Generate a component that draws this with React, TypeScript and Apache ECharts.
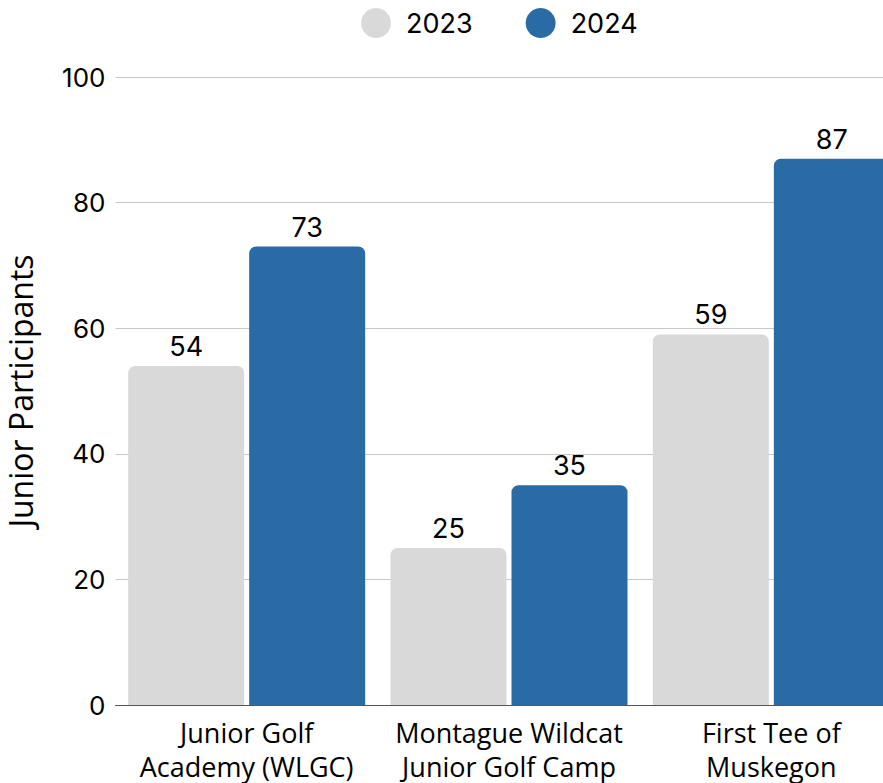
import React, { useEffect, useRef } from "react";
import * as echarts from "echarts";

const categories = ["Junior Golf\nAcademy (WLGC)", "Montague Wildcat\nJunior Golf Camp", "First Tee of\nMuskegon"];
const values2023 = [54, 25, 59];
const values2024 = [73, 35, 87];
const yTicks = { min: 0, max: 100, interval: 20 };

export default function App() {
  const ref = useRef<HTMLDivElement>(null);
  useEffect(() => {
    if (!ref.current) return;
    const chart = echarts.init(ref.current, undefined, { renderer: "svg" });
    const numFont = "Inter";
    const textFont = "Open Sans";
    chart.setOption({
      animation: false,
      legend: {
        data: ["2023", "2024"],
        left: 356,
        top: 3,
        icon: "circle",
        itemWidth: 30,
        itemHeight: 30,
        itemGap: 53,
        textStyle: { fontFamily: numFont, fontSize: 27, color: "#000", padding: [0, 0, 0, 10] },
      },
      grid: { left: 115.5, width: 787, top: 77, bottom: 78, containLabel: false, outerBoundsMode: "none" },
      xAxis: {
        type: "category",
        data: categories,
        axisTick: { show: false },
        axisLine: { show: true, lineStyle: { color: "#555", width: 1 } },
        axisLabel: {
          fontFamily: textFont,
          fontSize: 27,
          color: "#000",
          lineHeight: 34,
          margin: 10,
          interval: 0,
        },
      },
      yAxis: {
        type: "value",
        min: yTicks.min,
        max: yTicks.max,
        interval: yTicks.interval,
        name: "Junior Participants",
        nameLocation: "middle",
        nameGap: 79,
        nameTextStyle: { fontFamily: textFont, fontSize: 32, lineHeight: 32, color: "#000" },
        axisLine: { show: false },
        axisTick: { show: false },
        splitLine: { lineStyle: { color: "#c8c8c8", width: 1 } },
        axisLabel: { fontFamily: numFont, fontSize: 26, color: "#000", margin: 10 },
      },
      series: [
        {
          name: "2023",
          type: "bar",
          data: values2023,
          barWidth: 116,
          barGap: "4.3%",
          itemStyle: { color: "#d9d9d9", borderRadius: [7, 7, 0, 0] },
          label: { show: true, position: "top", distance: 6, fontFamily: numFont, fontSize: 27, color: "#000" },
        },
        {
          name: "2024",
          type: "bar",
          data: values2024,
          barWidth: 116,
          barGap: "4.3%",
          itemStyle: { color: "#2a6aa5", borderRadius: [7, 7, 0, 0] },
          label: { show: true, position: "top", distance: 6, fontFamily: numFont, fontSize: 27, color: "#000" },
        },
      ],
    });
    return () => chart.dispose();
  }, []);
  return (
    <div style={{ width: 883, height: 783, position: "absolute", left: 0, top: 0, overflow: "hidden" }}>
      <div ref={ref} style={{ width: 920, height: 783 }} />
    </div>
  );
}
